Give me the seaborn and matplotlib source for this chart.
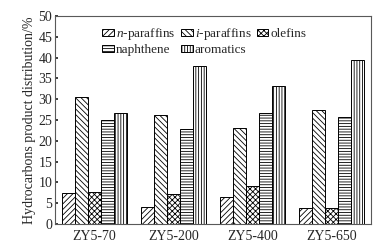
import matplotlib

matplotlib.use("Agg")
import matplotlib.pyplot as plt
import pandas as pd
import seaborn as sns

samples = ["ZY5-70", "ZY5-200", "ZY5-400", "ZY5-650"]
groups = ["$n$-paraffins", "$i$-paraffins", "olefins", "naphthene", "aromatics"]
n_paraffins = [7.4, 4.2, 6.4, 3.8]
i_paraffins = [30.6, 26.3, 23.1, 27.4]
olefins = [7.8, 7.2, 9.1, 3.8]
naphthene = [25.0, 22.8, 26.8, 25.7]
aromatics = [26.6, 38.0, 33.2, 39.4]
hatches = ["//////", "\\\\\\\\\\\\", "xxxxxx", "------", "||||||"]

sns.set_theme(style="white")
plt.rcParams["font.family"] = ["Liberation Serif", "DejaVu Serif"]
plt.rcParams["mathtext.fontset"] = "custom"
plt.rcParams["mathtext.it"] = "Liberation Serif:italic"
plt.rcParams["mathtext.rm"] = "Liberation Serif"
plt.rcParams["hatch.linewidth"] = 0.6

values = [n_paraffins, i_paraffins, olefins, naphthene, aromatics]
df = pd.DataFrame([
    {"sample": s, "group": g, "value": v}
    for g, vals in zip(groups, values)
    for s, v in zip(samples, vals)
])

fig = plt.figure(figsize=(3.79, 2.47), dpi=100)
ax = fig.add_axes([0.145, 0.093, 0.834, 0.842])
sns.barplot(data=df, x="sample", y="value", hue="group", order=samples,
            hue_order=groups, palette=["white"] * 5, edgecolor="black",
            linewidth=0.7, width=0.82, legend=False, ax=ax)
for cont, h in zip(ax.containers, hatches):
    for bar in cont:
        bar.set_hatch(h)

ax.set_ylim(0, 50)
ax.set_xlim(-0.5, 3.5)
ax.set_yticks(range(0, 51, 5))
ax.tick_params(axis="y", direction="in", length=2, labelsize=10, pad=2, left=True)
ax.tick_params(axis="x", length=0, labelsize=10, pad=4)
ax.set_xlabel("")
ax.set_ylabel("Hydrocarbons product distribution/%", fontsize=10, labelpad=2)
for sp in ax.spines.values():
    sp.set_color("0.35")
    sp.set_linewidth(0.8)

# legend fills column by column, so reorder to read row by row
order = [0, 3, 1, 4, 2]
ax.legend([ax.containers[i] for i in order], [groups[i] for i in order],
          ncol=3, frameon=False, fontsize=9.5, loc="upper left",
          bbox_to_anchor=(0.149, 0.952), handlelength=0.9, handleheight=0.4,
          handletextpad=0.15, columnspacing=0.4, labelspacing=0.15,
          borderaxespad=0, borderpad=0)

fig.savefig("out.png", dpi=100)
